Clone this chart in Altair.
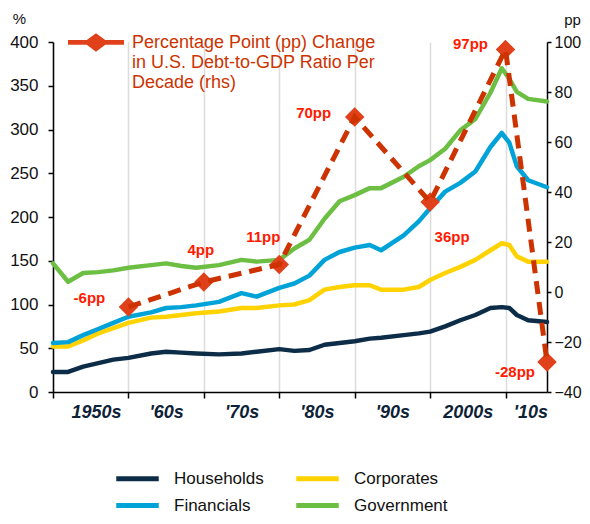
import json
import altair as alt
import pandas as pd

# ---------------- data ----------------
YEARS = [1950, 1952, 1954, 1956, 1958, 1960, 1963, 1965, 1967, 1969, 1972,
         1975, 1977, 1980, 1982, 1984, 1986, 1988, 1990, 1992, 1993.5,
         1996.5, 1998.5, 2000, 2002, 2004, 2006, 2008, 2009.5, 2010.5,
         2011.5, 2013, 2015.5]

HOUSEHOLDS = [23, 23, 29, 33, 37, 39, 44, 46, 45, 44, 43,
              44, 46, 49, 47, 48, 54, 56, 58, 61, 62,
              65, 67, 69, 75, 82, 88, 96, 97, 96,
              88, 82, 80]
CORPORATES = [52, 52, 59, 67, 73, 79, 85, 86, 88, 90, 92,
              96, 96, 99, 100, 105, 117, 120, 122, 122, 117,
              117, 120, 128, 136, 143, 151, 162, 170, 168,
              155, 149, 149]
FINANCIALS = [56, 57, 65, 72, 79, 86, 91, 96, 97, 99, 103,
              113, 109, 119, 124, 133, 151, 160, 165, 168, 162,
              179, 195, 210, 229, 239, 252, 280, 296, 285,
              258, 242, 234]
GOVERNMENT = [147, 126, 136, 137, 139, 142, 145, 147, 144, 142, 145,
              151, 149, 151, 164, 174, 198, 218, 225, 233, 233,
              246, 258, 265, 278, 299, 312, 342, 370, 358,
              343, 335, 332]

SERIES = ["Households", "Corporates", "Financials", "Government"]
SERIES_COLORS = ["#0c2c47", "#ffd200", "#00a3d7", "#6cbf43"]

PP_YEARS = [1960, 1970, 1980, 1990, 2000, 2010, 2015.5]
PP_VALUES = [-6, 4, 11, 70, 36, 97, -28]
PP_LABELS = ["-6pp", "4pp", "11pp", "70pp", "36pp", "97pp", "-28pp"]
PP_LEGEND_LINES = ["Percentage Point (pp) Change",
                   "in U.S. Debt-to-GDP Ratio Per",
                   "Decade (rhs)"]

DECADE_TICKS = [1950, 1960, 1970, 1980, 1990, 2000, 2010]
DECADE_LABELS = ["1950s", "'60s", "'70s", "'80s", "'90s", "2000s", "'10s"]
DECADE_LABEL_YEARS = [1955.7, 1965, 1975, 1985, 1995, 2005, 2013.3]
LEFT_TICKS = [0, 50, 100, 150, 200, 250, 300, 350, 400]
RIGHT_TICKS = [-40, -20, 0, 20, 40, 60, 80, 100]

# ---------------- tables ----------------
rows = []
for name, vals in zip(SERIES, [HOUSEHOLDS, CORPORATES, FINANCIALS, GOVERNMENT]):
    for yr, v in zip(YEARS, vals):
        rows.append({"year": yr, "series": name, "value": v})
df = pd.DataFrame(rows)

pp = pd.DataFrame({"year": PP_YEARS, "pp": PP_VALUES, "label": PP_LABELS})
pp["key"] = "pp"

# ---------------- styling ----------------
FONT = "Liberation Sans"
PP_LINE = "#cc3300"
PP_MARK = "#e0401a"
PP_TEXT = "#ff1a00"

is_tick = "indexof([" + ",".join(str(v) for v in DECADE_TICKS) + "], datum.value) >= 0"
label_expr = "''"
for yr, lab in zip(reversed(DECADE_LABEL_YEARS), reversed(DECADE_LABELS)):
    label_expr = f"abs(datum.value - {yr}) < 0.01 ? {json.dumps(lab)} : ({label_expr})"

x_axis = alt.Axis(
    values=sorted(DECADE_TICKS + DECADE_LABEL_YEARS),
    labelExpr=label_expr,
    title=None,
    grid=True,
    gridColor="#dcdcdc",
    gridWidth=1.5,
    gridOpacity={"condition": {"test": is_tick, "value": 1}, "value": 0},
    tickColor={"condition": {"test": is_tick, "value": "#000000"}, "value": "transparent"},
    tickSize=6,
    tickWidth=1.5,
    domainColor="#000000",
    domainWidth=1.5,
    labelFont=FONT,
    labelFontSize=18,
    labelFontWeight="bold",
    labelFontStyle="italic",
    labelColor="#0d2236",
    labelPadding=5,
    labelFlush=False,
    labelOverlap=False,
    labelBound=False,
)
x_scale = alt.Scale(domain=[1950, 2015.5], nice=False, zero=False)

left_axis = alt.Axis(
    values=LEFT_TICKS, orient="left", grid=False,
    title="%", titleAngle=0, titleX=-34, titleY=-24,
    titleAlign="center", titleBaseline="middle",
    titleFont=FONT, titleFontSize=15, titleFontWeight="normal", titleColor="#111111",
    tickSize=5, tickWidth=1.5, tickColor="#000000",
    domainColor="#000000", domainWidth=1.5,
    labelFont=FONT, labelFontSize=17, labelColor="#111111", labelPadding=10,
)
right_axis = alt.Axis(
    values=RIGHT_TICKS, orient="right", grid=False,
    title="pp", titleAngle=0, titleX=25, titleY=-23,
    titleAlign="center", titleBaseline="middle",
    titleFont=FONT, titleFontSize=15, titleFontWeight="normal", titleColor="#111111",
    tickSize=4, tickWidth=1.5, tickColor="#000000",
    domainColor="#000000", domainWidth=1.5,
    labelFont=FONT, labelFontSize=16, labelColor="#111111", labelPadding=3,
)

# ---------------- layers ----------------
# legend line glyph: a long horizontal stroke drawn from a small symbol
series_symbol = "M-4.25,0L4.25,0"
lines = alt.Chart(df).mark_line(strokeWidth=4.5, strokeCap="round", strokeJoin="round").encode(
    x=alt.X("year:Q", scale=x_scale, axis=x_axis),
    y=alt.Y("value:Q", scale=alt.Scale(domain=[0, 400], nice=False), axis=left_axis),
    color=alt.Color(
        "series:N",
        scale=alt.Scale(domain=SERIES, range=SERIES_COLORS),
        sort=SERIES,
        legend=alt.Legend(
            title=None, orient="none", legendX=76, legendY=428, columns=2,
            direction="horizontal",
            symbolType=series_symbol, symbolSize=100, symbolStrokeWidth=5,
            symbolFillColor="transparent",
            labelFont=FONT, labelFontSize=17, labelColor="#111111",
            labelOffset=28, columnPadding=22, rowPadding=6,
        ),
    ),
    order=alt.Order("year:Q"),
)

pp_y = alt.Y("pp:Q", scale=alt.Scale(domain=[-40, 100], nice=False), axis=right_axis)
pp_x = alt.X("year:Q", scale=x_scale, axis=x_axis)

# legend glyph: a line with a diamond, drawn a little below its centre so that it
# lines up with the first line of a top-anchored, three-line label
legend_path = ("M-1,0.215L-0.33,0.215L0,-0.03L0.33,0.215L1,0.215L1,0.385"
               "L0.33,0.385L0,0.63L-0.33,0.385L-1,0.385Z")
pp_label_expr = "[" + ", ".join(json.dumps(s) for s in PP_LEGEND_LINES) + "]"

diamonds = alt.Chart(pp).mark_point(shape="diamond", filled=True, size=380, color=PP_MARK).encode(
    x=pp_x, y=pp_y,
    opacity=alt.Opacity(
        "key:O",
        scale=alt.Scale(domain=["pp"], range=[1, 1]),
        legend=alt.Legend(
            title=None, orient="none", legendX=15, legendY=-36,
            symbolType=legend_path, symbolSize=3136,
            symbolFillColor=PP_LINE, symbolStrokeWidth=0, symbolOpacity=1,
            labelExpr=pp_label_expr, labelFont=FONT, labelFontSize=18,
            labelColor=PP_LINE, labelLimit=500, labelOffset=8, labelBaseline="top",
        ),
    ),
)

dashed = alt.Chart(pp).mark_line(strokeDash=[13, 8], strokeWidth=5, color=PP_LINE).encode(
    x=pp_x, y=pp_y, order=alt.Order("year:Q"),
)

LABEL_OFFSETS = {
    "-6pp": (-39, -9), "4pp": (-3, -32), "11pp": (-16, -28), "70pp": (-41, -4),
    "36pp": (22, 35), "97pp": (-35, -6), "-28pp": (-32, 10),
}
texts = []
for lab in PP_LABELS:
    dx, dy = LABEL_OFFSETS[lab]
    texts.append(
        alt.Chart(pp).transform_filter(alt.datum.label == lab).mark_text(
            font=FONT, fontSize=15, fontWeight="bold", color=PP_TEXT,
            align="center", baseline="middle", dx=dx, dy=dy,
        ).encode(x=pp_x, y=pp_y, text="label:N")
    )

pp_layer = alt.layer(diamonds, dashed, *texts)

chart = alt.layer(lines, pp_layer).resolve_scale(y="independent").properties(
    width=494, height=350,
    padding={"left": 45, "top": 34, "right": 35, "bottom": 124},
    autosize=alt.AutoSizeParams(type="none"),
).configure(font=FONT).configure_view(stroke=None)

chart.save("out.html", embed_options={"renderer": "svg", "actions": False})
